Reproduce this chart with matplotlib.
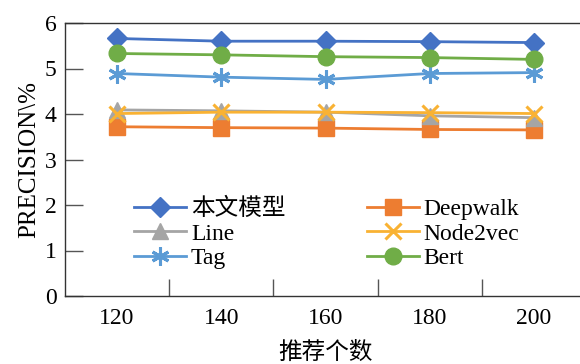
import matplotlib
matplotlib.use("Agg")
import matplotlib.pyplot as plt

plt.rcParams['font.family'] = ['Liberation Serif', 'Noto Sans CJK SC']

categories = ["120", "140", "160", "180", "200"]
ours = [5.66, 5.60, 5.60, 5.59, 5.57]
deepwalk = [3.72, 3.70, 3.69, 3.66, 3.65]
line = [4.09, 4.07, 4.04, 3.96, 3.92]
node2vec = [4.01, 4.04, 4.04, 4.03, 4.01]
tag = [4.89, 4.81, 4.76, 4.89, 4.91]
bert = [5.33, 5.30, 5.26, 5.24, 5.20]
labels = ["本文模型", "Deepwalk", "Line", "Node2vec", "Tag", "Bert"]

W, H = 580, 364
fig = plt.figure(figsize=(W/100, H/100), dpi=100)
ax = fig.add_axes([65/W, 1-296/H, (586-65)/W, (296-23)/H])

x = list(range(len(categories)))
series = [
    (ours, '#4472C4', 'D', 10, labels[0]),
    (deepwalk, '#ED7D31', 's', 11, labels[1]),
    (line, '#A5A5A5', '^', 11, labels[2]),
    (node2vec, '#F9B233', 'x', 12, labels[3]),
    (tag, '#5B9BD5', '*', 0, labels[4]),
    (bert, '#70AD47', 'o', 12, labels[5]),
]
handles = {}
for vals, c, m, ms, lab in series:
    if lab == "Tag":
        h, = ax.plot(x, vals, color=c, lw=2, marker=(6, 2, 0), markersize=13,
                     markeredgewidth=2.2, label=lab)
    elif m == 'x':
        h, = ax.plot(x, vals, color=c, lw=2, marker='x', markersize=ms,
                     markeredgewidth=2.2, label=lab)
    else:
        h, = ax.plot(x, vals, color=c, lw=2, marker=m, markersize=ms,
                     markeredgecolor=c, label=lab)
    handles[lab] = h

ax.set_xlim(-0.5, 4.5)
ax.set_ylim(0, 6)
ax.set_yticks(range(0, 7))
ax.set_xticks(x)
ax.set_xticklabels(categories)
ax.set_xticks([i + 0.5 for i in range(4)], minor=True)
ax.tick_params(axis='x', which='major', length=0, pad=9, labelsize=17)
ax.tick_params(axis='x', which='minor', length=12, direction='in', width=1, color='#555555')
ax.tick_params(axis='y', length=13, direction='in', width=1, color='#555555', labelsize=17, pad=6)
for s in ['left', 'bottom', 'top']:
    ax.spines[s].set_color('#333333')
    ax.spines[s].set_linewidth(1)
ax.spines['right'].set_visible(False)

ax.set_ylabel("PRECISION\u005c%", fontsize=18, labelpad=3,
              family=['Liberation Serif', 'DejaVu Serif'])
ax.set_xlabel("推荐个数", fontsize=17, labelpad=9)

order = ["本文模型", "Line", "Tag", "Deepwalk", "Node2vec", "Bert"]
leg = ax.legend([handles[k] for k in order], order, ncol=2, loc='upper left',
                bbox_to_anchor=(0.115, 0.395), frameon=False, fontsize=17,
                handlelength=2.2, handletextpad=0.2, columnspacing=3.45,
                labelspacing=0.14, borderaxespad=0)

fig.savefig("out.png", dpi=100)
